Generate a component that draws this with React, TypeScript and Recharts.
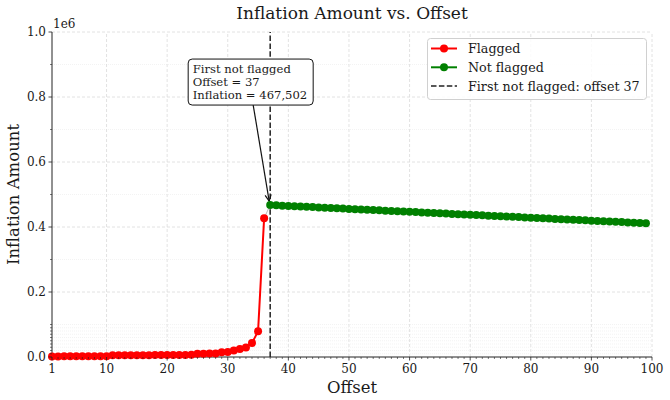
import React from 'react';
import {
  ComposedChart,
  Line,
  XAxis,
  YAxis,
  ReferenceLine,
  ReferenceDot,
  Legend,
  Customized,
} from 'recharts';

// Offsets 1..36 were flagged; 37 onward were not.
const flaggedOffsets = [
  1, 2, 3, 4, 5, 6, 7, 8, 9, 10, 11, 12, 13, 14, 15, 16, 17, 18, 19, 20, 21, 22, 23, 24, 25, 26, 27, 28,
  29, 30, 31, 32, 33, 34, 35, 36,
];
const flaggedValues = [
  1800, 1900, 2000, 2000, 2100, 2200, 2300, 2400, 2500, 2600, 5200, 5300, 5400, 5400, 5500, 5600, 5700,
  5800, 5900, 6000, 6100, 6200, 6400, 6600, 9800, 10100, 10400, 10800, 14500, 15200, 19800, 24600, 29500,
  43000, 79000, 427000,
];
const notFlaggedOffsets = [
  37, 38, 39, 40, 41, 42, 43, 44, 45, 46, 47, 48, 49, 50, 51, 52, 53, 54, 55, 56, 57, 58, 59, 60, 61, 62,
  63, 64, 65, 66, 67, 68, 69, 70, 71, 72, 73, 74, 75, 76, 77, 78, 79, 80, 81, 82, 83, 84, 85, 86, 87, 88,
  89, 90, 91, 92, 93, 94, 95, 96, 97, 98, 99,
];
const notFlaggedValues = [
  467502, 466600, 465690, 464790, 463880, 462980, 462070, 461170, 460260, 459360, 458450, 457550, 456640,
  455740, 454830, 453930, 453020, 452120, 451210, 450310, 449400, 448500, 447590, 446690, 445780, 444880,
  443970, 443070, 442160, 441260, 440350, 439450, 438540, 437640, 436730, 435830, 434920, 434020, 433110,
  432210, 431300, 430400, 429490, 428590, 427680, 426780, 425870, 424970, 424060, 423160, 422250, 421350,
  420440, 419540, 418630, 417730, 416820, 415920, 415010, 414110, 413200, 412300, 411390,
];
const firstNotFlaggedOffset = 37;
const firstNotFlaggedValue = 467502;

const xMajorTicks = [1, 10, 20, 30, 40, 50, 60, 70, 80, 90, 100];
const xMinorTicks = [
  2, 3, 4, 5, 6, 7, 8, 9, 11, 12, 13, 14, 15, 16, 17, 18, 19, 21, 22, 23, 24, 25, 26, 27, 28, 29, 31, 32,
  33, 34, 35, 36, 37, 38, 39, 41, 42, 43, 44, 45, 46, 47, 48, 49, 51, 52, 53, 54, 55, 56, 57, 58, 59, 61,
  62, 63, 64, 65, 66, 67, 68, 69, 71, 72, 73, 74, 75, 76, 77, 78, 79, 81, 82, 83, 84, 85, 86, 87, 88, 89,
  91, 92, 93, 94, 95, 96, 97, 98, 99,
];
const xGridTicks = [10, 20, 30, 40, 50, 60, 70, 80, 90, 100];
const yMajorTicks = [0, 200000, 400000, 600000, 800000, 1000000];
const yMinorTicks = [
  10000, 20000, 30000, 40000, 50000, 60000, 70000, 80000, 90000, 100000, 300000, 500000, 700000, 900000,
];
const yGridTicks = [200000, 400000, 600000, 800000, 1000000];

const legendItems = [
  { label: 'Flagged', color: '#ff0000', kind: 'marker' },
  { label: 'Not flagged', color: '#008000', kind: 'marker' },
  { label: `First not flagged: offset ${firstNotFlaggedOffset}`, color: '#222222', kind: 'dashed' },
];

const lastFlaggedIdx = flaggedOffsets.length - 1;
const rows = [
  ...flaggedOffsets.map((o, i) => ({
    offset: o,
    flagged: flaggedValues[i] as number | null,
    notFlagged: null as number | null,
    bridge: i === lastFlaggedIdx ? flaggedValues[i] : (null as number | null),
  })),
  ...notFlaggedOffsets.map((o, i) => ({
    offset: o,
    flagged: null as number | null,
    notFlagged: notFlaggedValues[i] as number | null,
    bridge: i === 0 ? notFlaggedValues[i] : (null as number | null),
  })),
];

const FONT = '"DejaVu Serif", serif';
const TEXT = '#1a1a1a';
const AXIS = '#222222';

const xAllTicks = [...xMajorTicks, ...xMinorTicks].sort((a, b) => a - b);
const yAllTicks = [...yMajorTicks, ...yMinorTicks].sort((a, b) => a - b);

const XTick = (props: any) => {
  const { x, y, payload } = props;
  const major = xMajorTicks.includes(payload.value);
  return (
    <g>
      <line x1={x} x2={x} y1={y} y2={y + (major ? 3.5 : 2)} stroke={AXIS} strokeWidth={major ? 0.8 : 0.6} />
      {major && (
        <text x={x} y={y + 16} textAnchor="middle" fontFamily={FONT} fontSize={12} fill={TEXT}>
          {payload.value}
        </text>
      )}
    </g>
  );
};

const YTick = (props: any) => {
  const { x, y, payload } = props;
  const major = yMajorTicks.includes(payload.value);
  return (
    <g>
      <line x1={x} x2={x - (major ? 3.5 : 2)} y1={y} y2={y} stroke={AXIS} strokeWidth={major ? 0.8 : 0.6} />
      {major && (
        <text x={x - 6} y={y + 4.3} textAnchor="end" fontFamily={FONT} fontSize={12} fill={TEXT}>
          {(payload.value / 1e6).toFixed(1)}
        </text>
      )}
    </g>
  );
};

const YLabel = (props: any) => {
  const { viewBox } = props;
  const ax = viewBox.x + viewBox.width;
  const cy = viewBox.y + viewBox.height / 2;
  return (
    <g>
      <text
        x={13}
        y={cy}
        transform={`rotate(-90 13 ${cy})`}
        textAnchor="middle"
        dominantBaseline="central"
        fontFamily={FONT}
        fontSize={16.5}
        fill={TEXT}
      >
        Inflation Amount
      </text>
      <text x={ax + 1} y={viewBox.y - 4} fontFamily={FONT} fontSize={12} fill={TEXT}>
        1e6
      </text>
    </g>
  );
};

const XLabel = (props: any) => {
  const { viewBox } = props;
  const cx = viewBox.x + viewBox.width / 2;
  return (
    <text x={cx} y={viewBox.y + 36} textAnchor="middle" fontFamily={FONT} fontSize={16.5} fill={TEXT}>
      Offset
    </text>
  );
};

const Title = () => (
  <text x={352} y={19} textAnchor="middle" fontFamily={FONT} fontSize={17} fill={TEXT}>
    Inflation Amount vs. Offset
  </text>
);

// Callout pointing at the first non-flagged point, box placed by pixel offset.
const Callout = (props: any) => {
  const { cx, cy } = props;
  const bx = cx - 82;
  const by = cy - 146;
  const bw = 125;
  const bh = 46;
  const sx = cx - 17;
  const sy = by + bh;
  const tx = cx - 1;
  const ty = cy - 4;
  const ang = Math.atan2(ty - sy, tx - sx);
  const head = 7;
  const spread = 0.45;
  const h1x = tx - head * Math.cos(ang - spread);
  const h1y = ty - head * Math.sin(ang - spread);
  const h2x = tx - head * Math.cos(ang + spread);
  const h2y = ty - head * Math.sin(ang + spread);
  const lines = [
    'First not flagged',
    `Offset = ${firstNotFlaggedOffset}`,
    `Inflation = ${firstNotFlaggedValue.toLocaleString('en-US')}`,
  ];
  return (
    <g>
      <line x1={sx} y1={sy} x2={tx} y2={ty} stroke="#111" strokeWidth={1.2} />
      <polyline points={`${h1x},${h1y} ${tx},${ty} ${h2x},${h2y}`} fill="none" stroke="#111" strokeWidth={1.2} />
      <rect x={bx} y={by} width={bw} height={bh} rx={4} ry={4} fill="#fff" stroke="#111" strokeWidth={1} />
      {lines.map((t, i) => (
        <text key={t} x={bx + 4.5} y={by + 13.5 + i * 13} fontFamily={FONT} fontSize={11.6} fill={TEXT}>
          {t}
        </text>
      ))}
    </g>
  );
};

const LegendBox = () => (
  <svg width={220} height={62} style={{ display: 'block' }}>
    <rect x={0.5} y={0.5} width={219} height={61} rx={3} ry={3} fill="#fff" fillOpacity={0.85} stroke="#d0d0d0" />
    {legendItems.map((it, i) => {
      const y = 10.5 + i * 18.8;
      return (
        <g key={it.label}>
          {it.kind === 'marker' ? (
            <g>
              <line x1={4} x2={30} y1={y} y2={y} stroke={it.color} strokeWidth={2} />
              <circle cx={17} cy={y} r={4} fill={it.color} />
            </g>
          ) : (
            <line x1={4} x2={30} y1={y} y2={y} stroke={it.color} strokeWidth={1.5} strokeDasharray="5.5 2.4" />
          )}
          <text x={41} y={y + 4.4} fontFamily={FONT} fontSize={12.7} fill={TEXT}>
            {it.label}
          </text>
        </g>
      );
    })}
  </svg>
);

export default function App() {
  return (
    <div style={{ position: 'absolute', left: 0, top: 0, width: 670, height: 400, background: '#fff' }}>
      <ComposedChart width={670} height={400} data={rows} margin={{ top: 32, right: 18, bottom: 0, left: 0 }}>
        <XAxis
          dataKey="offset"
          type="number"
          domain={[1, 100]}
          ticks={xAllTicks}
          interval={0}
          tickSize={0}
          tickMargin={0}
          tickLine={false}
          tick={<XTick />}
          axisLine={{ stroke: AXIS, strokeWidth: 1 }}
          height={43}
          label={<XLabel />}
        />
        <YAxis
          type="number"
          domain={[0, 1000000]}
          ticks={yAllTicks}
          interval={0}
          tickSize={0}
          tickMargin={0}
          tickLine={false}
          tick={<YTick />}
          axisLine={{ stroke: AXIS, strokeWidth: 1 }}
          width={52}
          label={<YLabel />}
        />
        {yMinorTicks.map((v) => (
          <ReferenceLine key={`ym${v}`} y={v} stroke="#ebebeb" strokeWidth={0.6} strokeDasharray="1 1" />
        ))}
        {yGridTicks.map((v) => (
          <ReferenceLine key={`yg${v}`} y={v} stroke="#dadada" strokeWidth={0.8} strokeDasharray="3 2" />
        ))}
        {xGridTicks.map((v) => (
          <ReferenceLine key={`xg${v}`} x={v} stroke="#dadada" strokeWidth={0.8} strokeDasharray="3 2" />
        ))}
        <ReferenceLine x={firstNotFlaggedOffset} stroke="#222" strokeWidth={1.5} strokeDasharray="5.5 2.4" />
        <Line
          dataKey="bridge"
          stroke="#bbbbbb"
          strokeWidth={1}
          dot={false}
          activeDot={false}
          connectNulls={false}
          isAnimationActive={false}
          type="linear"
        />
        <Line
          dataKey="flagged"
          stroke="#ff0000"
          strokeWidth={2}
          dot={{ r: 4, fill: '#ff0000', stroke: '#ff0000', strokeWidth: 0 }}
          activeDot={false}
          connectNulls={false}
          isAnimationActive={false}
          type="linear"
        />
        <Line
          dataKey="notFlagged"
          stroke="#008000"
          strokeWidth={2}
          dot={{ r: 4, fill: '#008000', stroke: '#008000', strokeWidth: 0 }}
          activeDot={false}
          connectNulls={false}
          isAnimationActive={false}
          type="linear"
        />
        <ReferenceDot
          x={firstNotFlaggedOffset}
          y={firstNotFlaggedValue}
          r={0}
          shape={(p: any) => <Callout {...p} />}
        />
        <Customized component={Title} />
        <Legend
          layout="vertical"
          align="center"
          verticalAlign="middle"
          wrapperStyle={{ top: 38, left: 427, width: 220, height: 62 }}
          content={() => <LegendBox />}
        />
      </ComposedChart>
    </div>
  );
}
